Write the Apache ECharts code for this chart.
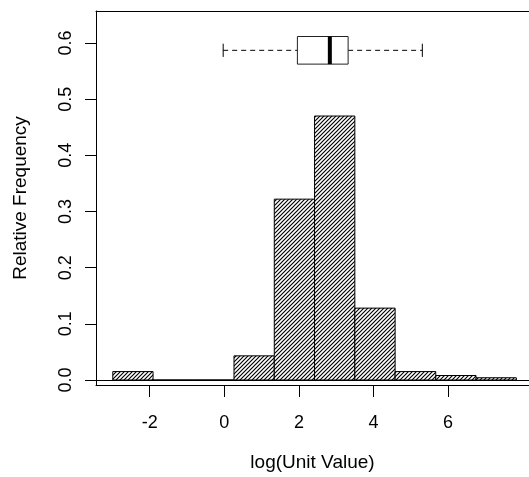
<!DOCTYPE html>
<html><head><meta charset="utf-8">
<script src="https://cdn.jsdelivr.net/npm/echarts@6/dist/echarts.min.js"></script>
<style>html,body{margin:0;padding:0;background:#fff}#c{width:529px;height:477px}</style>
</head><body><div id="c"></div>
<script>
// histogram bin edges (log unit value) and relative frequencies
const binEdges = [-2.99, -1.91, -0.83, 0.26, 1.34, 2.42, 3.50, 4.58, 5.67, 6.75, 7.83];
const relFreq = [0.015, 0, 0, 0.043, 0.322, 0.470, 0.128, 0.015, 0.008, 0.004];
// boxplot: lower whisker, Q1, median, Q3, upper whisker
const boxStats = [-0.03, 1.96, 2.83, 3.32, 5.31];
const boxLevel = [0.587];
const xTicks = [-2, 0, 2, 4, 6];
const yTicks = [0, 0.1, 0.2, 0.3, 0.4, 0.5, 0.6];
const xLabel = 'log(Unit Value)';
const yLabel = 'Relative Frequency';

const FONT = '"Liberation Sans", Arial, Helvetica, sans-serif';

// hatch pattern
const pat = document.createElement('canvas');
pat.width = 4; pat.height = 4;
const pc = pat.getContext('2d');
pc.fillStyle = '#fff'; pc.fillRect(0, 0, 4, 4);
pc.strokeStyle = '#000'; pc.lineWidth = 1.15;
pc.beginPath();
pc.moveTo(-1, 5); pc.lineTo(5, -1);
pc.moveTo(-1, 1); pc.lineTo(1, -1);
pc.moveTo(3, 5); pc.lineTo(5, 3);
pc.stroke();
const hatch = { image: pat, repeat: 'repeat' };

const binData = relFreq.map((f, i) => [binEdges[i], binEdges[i + 1], f]);

const chart = echarts.init(document.getElementById('c'), null, { renderer: 'canvas' });
const xMin = -3.44, xMax = 8.17;
chart.setOption({
  animation: false,
  backgroundColor: '#fff',
  grid: { left: 96, right: 0, top: 11, bottom: 92, containLabel: false },
  xAxis: [{
    type: 'value', min: xMin, max: xMax, position: 'bottom',
    axisLine: { show: true, onZero: false, lineStyle: { color: '#000', width: 1 } },
    axisTick: { show: true, length: 12, customValues: xTicks, lineStyle: { color: '#000' } },
    axisLabel: { customValues: xTicks, color: '#000', fontSize: 18, fontFamily: FONT, margin: 29 },
    splitLine: { show: false },
    name: xLabel, nameLocation: 'middle', nameGap: 68,
    nameTextStyle: { color: '#000', fontSize: 19, fontFamily: FONT }
  }, {
    type: 'value', min: xMin, max: xMax, position: 'top',
    axisLine: { show: true, onZero: false, lineStyle: { color: '#000', width: 1 } },
    axisTick: { show: false }, axisLabel: { show: false }, splitLine: { show: false }
  }],
  yAxis: {
    type: 'value', min: -0.0089, max: 0.657,
    axisLine: { show: true, onZero: false, lineStyle: { color: '#000', width: 1 } },
    axisTick: { show: true, length: 11, customValues: yTicks, lineStyle: { color: '#000' } },
    axisLabel: { customValues: yTicks, rotate: 90, color: '#000', fontSize: 18, fontFamily: FONT, margin: 21,
      formatter: v => v.toFixed(1) },
    splitLine: { show: false },
    name: yLabel, nameLocation: 'middle', nameRotate: 90, nameGap: 66,
    nameTextStyle: { color: '#000', fontSize: 19, fontFamily: FONT }
  },
  series: [{
    type: 'custom',
    data: binData,
    encode: { x: [0, 1], y: 2 },
    renderItem: function (params, api) {
      const p0 = api.coord([api.value(0), 0]);
      const p1 = api.coord([api.value(1), api.value(2)]);
      return {
        type: 'rect',
        shape: { x: p0[0], y: p1[1], width: p1[0] - p0[0], height: p0[1] - p1[1] },
        style: { fill: hatch, stroke: '#000', lineWidth: 1 }
      };
    },
    markLine: {
      silent: true, symbol: 'none', label: { show: false },
      lineStyle: { color: '#000', width: 1, type: 'solid' },
      data: [{ yAxis: 0 }]
    }
  }, {
    type: 'custom',
    data: [boxStats.concat(boxLevel)],
    encode: { x: [0, 1, 2, 3, 4], y: 5 },
    renderItem: function (params, api) {
      const lvl = api.value(5);
      const pLo = api.coord([api.value(0), lvl]);
      const pQ1 = api.coord([api.value(1), lvl]);
      const pMed = api.coord([api.value(2), lvl]);
      const pQ3 = api.coord([api.value(3), lvl]);
      const pHi = api.coord([api.value(4), lvl]);
      const hb = 13.8, hc = 6.6, y = pLo[1];
      const ls = { stroke: '#000', lineWidth: 1, lineDash: [5, 4] };
      return {
        type: 'group',
        children: [
          { type: 'line', shape: { x1: pLo[0], y1: y, x2: pQ1[0], y2: y }, style: ls },
          { type: 'line', shape: { x1: pQ3[0], y1: y, x2: pHi[0], y2: y }, style: ls },
          { type: 'line', shape: { x1: pLo[0], y1: y - hc, x2: pLo[0], y2: y + hc }, style: { stroke: '#000', lineWidth: 1 } },
          { type: 'line', shape: { x1: pHi[0], y1: y - hc, x2: pHi[0], y2: y + hc }, style: { stroke: '#000', lineWidth: 1 } },
          { type: 'rect', shape: { x: pQ1[0], y: y - hb, width: pQ3[0] - pQ1[0], height: 2 * hb }, style: { fill: '#fff', stroke: '#222', lineWidth: 1 } },
          { type: 'line', shape: { x1: pMed[0], y1: y - hb, x2: pMed[0], y2: y + hb }, style: { stroke: '#000', lineWidth: 4 } }
        ]
      };
    }
  }]
});
</script></body></html>
